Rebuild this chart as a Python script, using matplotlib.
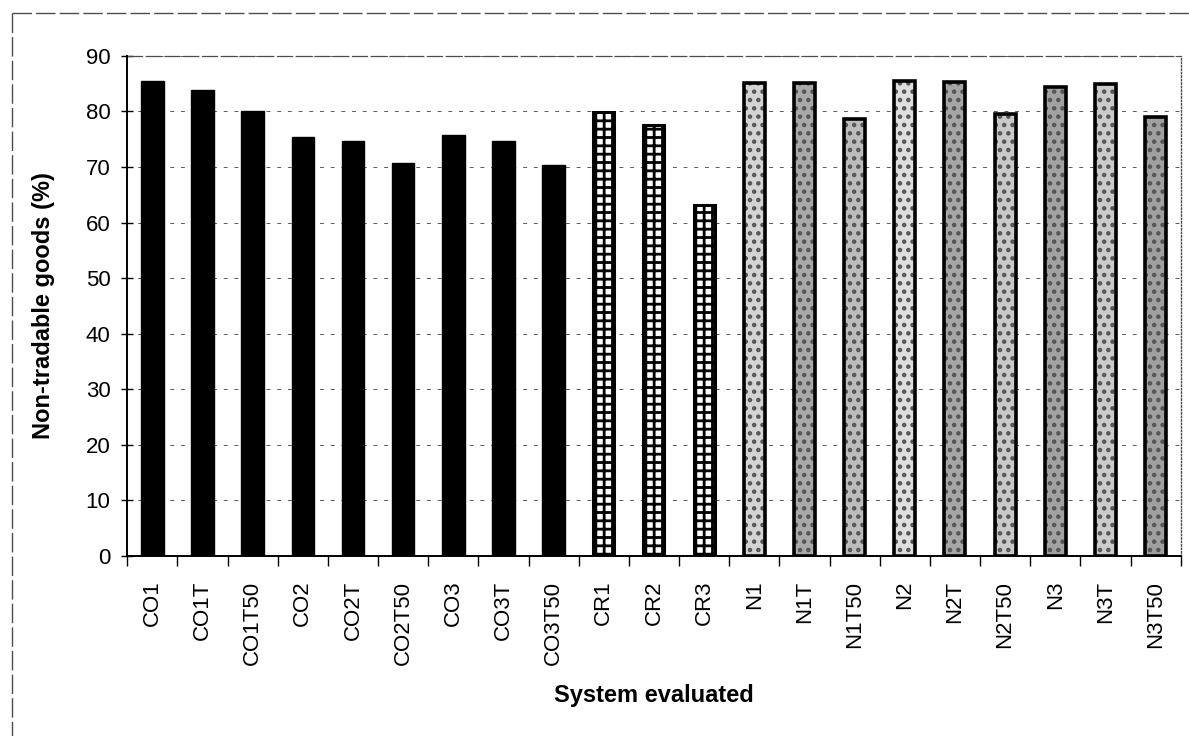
import matplotlib.pyplot as plt
from matplotlib.lines import Line2D
import numpy as np

plt.rcParams["font.family"] = ["Liberation Sans", "DejaVu Sans"]
plt.rcParams["hatch.linewidth"] = 2.0

# Systeme und Anteil nicht handelbarer Gueter
systeme = ["CO1", "CO1T", "CO1T50", "CO2", "CO2T", "CO2T50", "CO3", "CO3T", "CO3T50",
           "CR1", "CR2", "CR3",
           "N1", "N1T", "N1T50", "N2", "N2T", "N2T50", "N3", "N3T", "N3T50"]
anteil = [85.5, 83.9, 80.1, 75.4, 74.7, 70.7, 75.7, 74.6, 70.3,
          79.9, 77.6, 63.2,
          85.1, 85.1, 78.6, 85.4, 85.3, 79.6, 84.4, 85.0, 79.0]
yticks = [0, 10, 20, 30, 40, 50, 60, 70, 80, 90]

# Fuellung je Gruppe: CO schwarz, CR Gitter, N grau gesprenkelt
grau_N = ["#d4d4d4", "#a9a9a9", "#bcbcbc", "#dedede", "#a6a6a6", "#c9c9c9", "#a2a2a2", "#cbcbcb", "#a0a0a0"]

fig = plt.figure(figsize=(11.89, 7.36), dpi=100)
ax = fig.add_axes([0.107, 0.245, 0.886, 0.679])

x = np.arange(len(systeme))
for i, (name, val) in enumerate(zip(systeme, anteil)):
    if name.startswith("CO"):
        ax.bar(x[i], val, width=0.45, color="black", edgecolor="black", zorder=3)
    elif name.startswith("CR"):
        ax.bar(x[i], val, width=0.42, color="white", edgecolor="black", hatch="++", linewidth=2.2, zorder=3)
    else:
        g = grau_N[i - 12]
        ax.bar(x[i], val, width=0.42, color=g, edgecolor="#555555", hatch="..", linewidth=0, zorder=3)
        ax.bar(x[i], val, width=0.42, fill=False, edgecolor="black", linewidth=2.6, zorder=4)

ax.set_xlim(-0.5, len(systeme) - 0.5)
ax.set_ylim(0, 90)
ax.set_yticks(yticks)
ax.tick_params(axis="y", labelsize=16, direction="inout", length=8, width=1, pad=8)

ax.set_xticks(x)
ax.set_xticklabels(systeme, rotation=90, fontsize=16)
ax.set_xticks(np.arange(len(systeme) + 1) - 0.5, minor=True)
ax.tick_params(axis="x", which="major", length=0, pad=18)
ax.tick_params(axis="x", which="minor", direction="out", length=7, width=1)

ax.yaxis.grid(True, color="0.35", linestyle=(0, (4, 7)), linewidth=0.7, zorder=0)
ax.set_axisbelow(True)

for s in ["left", "bottom"]:
    ax.spines[s].set_linewidth(1.4)
    ax.spines[s].set_zorder(5)
ax.spines["top"].set_color("0.3")
ax.spines["top"].set_linewidth(0.9)
ax.spines["top"].set_linestyle((0, (12, 3)))
ax.spines["right"].set_color("0.3")
ax.spines["right"].set_linewidth(1.0)
ax.spines["right"].set_linestyle((0, (1, 1.5)))

ax.set_ylabel("Non-tradable goods (%)", fontsize=17, fontweight="bold", labelpad=22)
ax.set_xlabel("System evaluated", fontsize=17, fontweight="bold", labelpad=14)

# Rahmen um das Diagramm
fig.add_artist(Line2D([0.01, 1.0], [0.982, 0.982], transform=fig.transFigure, color="0.3", linewidth=1.0,
                      linestyle=(0, (14, 3))))
fig.add_artist(Line2D([0.01, 0.01], [0.982, 0.0], transform=fig.transFigure, color="0.3", linewidth=1.0,
                      linestyle=(0, (14, 3))))

plt.savefig("out.png", dpi=100)
plt.close()
